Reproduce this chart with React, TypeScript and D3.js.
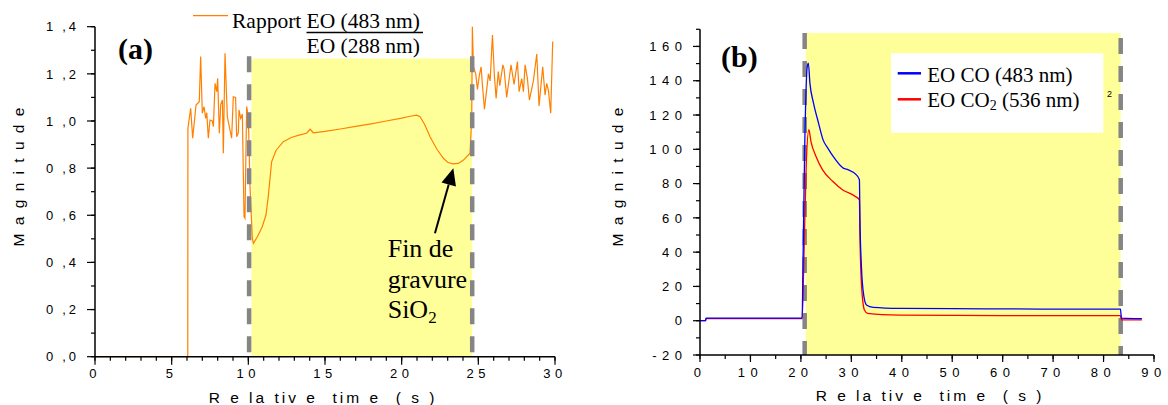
import React from "react";
import * as d3 from "d3";

// ---------- Data: panel (a) ----------
const ratioTime = [
  0, 6.05, 6.06, 6.24, 6.37, 6.59, 6.8, 6.89, 7.0, 7.11, 7.22, 7.29, 7.39, 7.5, 7.65, 7.72,
  7.83, 7.94, 8.0, 8.11, 8.2, 8.31, 8.37, 8.48, 8.63, 8.91, 9.02, 9.17, 9.24, 9.35, 9.39,
  9.5, 9.61, 9.72, 9.78, 9.89, 10.0, 10.11, 10.26, 10.33, 10.6, 10.9, 11.15, 11.3, 11.52,
  11.8, 12.28, 12.8, 13.3, 13.8, 14.03, 14.24, 15, 16, 17, 18, 19, 20, 20.55, 20.98, 21.2,
  21.5, 21.85, 22.3, 22.72, 23.0, 23.33, 23.7, 24.03, 24.46, 24.57, 24.61, 24.68, 24.83,
  24.94, 25.07, 25.18, 25.27, 25.4, 25.54, 25.66, 25.77, 25.92, 26.05, 26.16, 26.3, 26.4,
  26.6, 26.68, 26.85, 27.13, 27.33, 27.55, 27.66, 27.83, 27.94, 28.05, 28.2, 28.33, 28.59,
  28.81, 28.96, 29.2, 29.35, 29.46, 29.57, 29.72, 29.85,
];
const ratioValues = [
  0, 0, 0.969, 1.054, 0.927, 1.068, 1.082, 1.273, 1.033, 1.061, 1.011, 1.035, 0.927, 1.004,
  1.0, 0.976, 1.16, 1.124, 1.181, 0.948, 1.07, 1.089, 0.863, 1.287, 1.018, 0.927, 1.103,
  1.1, 0.933, 0.95, 1.047, 1.011, 1.03, 0.594, 0.587, 1.061, 1.02, 0.721, 0.502, 0.481,
  0.51, 0.55, 0.601, 0.68, 0.827, 0.875, 0.912, 0.93, 0.94, 0.948, 0.965, 0.95, 0.956,
  0.966, 0.977, 0.988, 1.0, 1.012, 1.02, 1.025, 1.018, 0.985, 0.933, 0.88, 0.842, 0.825,
  0.818, 0.82, 0.834, 0.863, 1.018, 1.4, 1.23, 1.2, 1.134, 1.195, 1.23, 1.15, 1.05, 1.13,
  1.2, 1.17, 1.365, 1.19, 1.096, 1.21, 1.15, 1.238, 1.22, 1.1, 1.238, 1.155, 1.252, 1.124,
  1.18, 1.124, 1.238, 1.18, 1.089, 1.17, 1.284, 1.064, 1.23, 1.11, 1.16, 1.13, 1.033, 1.337,
];
const aXTicks = [0, 5, 10, 15, 20, 25, 30];
const aYTicks = [0, 0.2, 0.4, 0.6, 0.8, 1.0, 1.2, 1.4];
const aMarkers = [10.05, 24.6];
const aWindow = [10.2, 24.6];
const aWindowTop = 1.265;
const aArrowFrom = [22.17, 0.524];
const aArrowTo = [23.37, 0.8];

// ---------- Data: panel (b) ----------
const coTime = [
  0, 1.1, 1.2, 20.25, 20.4, 20.75, 21.25, 21.48, 21.79, 22.5, 23.5, 24.4, 25.4, 26.4, 28.4,
  29.4, 31.0, 31.6, 31.7, 32.0, 32.5, 33.0, 34.35, 39.6, 50, 60, 70, 83.35, 83.55, 87.6,
];
const coValues = [
  0, 0, 1.5, 1.5, 30, 100, 148, 150.3, 138.6, 127, 115.3, 105.5, 100.4, 95.8, 89, 88, 85.1,
  82.2, 60.7, 31.5, 14, 9.2, 7.8, 7.2, 7.0, 6.9, 6.8, 6.8, 1.5, 1.2,
];
const co2Time = [
  0, 1.1, 1.2, 20.25, 20.55, 21.05, 21.58, 22.0, 23.0, 24.3, 26.35, 28.3, 30.3, 31.0, 31.6,
  31.7, 32.0, 32.6, 33.2, 39.6, 50, 60, 70, 83.35, 83.55, 87.6,
];
const co2Values = [
  0, 0, 1.2, 1.2, 30, 90, 111.4, 104.5, 95.8, 88, 81.2, 76.3, 73.4, 72.1, 70.5, 51, 21.8,
  6.2, 4.3, 3.3, 3.1, 3.0, 3.0, 3.0, 0.5, 0.5,
];
const bXTicks = [0, 10, 20, 30, 40, 50, 60, 70, 80, 90];
const bYTicks = [-20, 0, 20, 40, 60, 80, 100, 120, 140, 160];
const bMarkers = [20.75, 83.4];
const bWindow = [20.95, 83.4];
const bWindowTop = 167.8;

const SANS = "'Liberation Sans', Arial, sans-serif";
const SERIF = "'Liberation Serif', 'Times New Roman', serif";
const YELLOW = "#ffff99";
const DASH = "#858585";

function range(a: number, b: number, step: number) {
  const out: number[] = [];
  for (let v = a; v <= b + 1e-9; v += step) out.push(+v.toFixed(6));
  return out;
}

export default function App() {
  const xA = d3.scaleLinear().domain([0, 30]).range([95, 555]);
  const yA = d3.scaleLinear().domain([0, 1.4]).range([356.7, 26.7]);
  const xB = d3.scaleLinear().domain([0, 90]).range([700, 1154]);
  const yB = d3.scaleLinear().domain([-20, 170]).range([355, 29.3]);

  const lineA = d3
    .line<number>()
    .x((_, i) => xA(ratioTime[i]))
    .y((d) => yA(d));
  const lineCO = d3
    .line<number>()
    .x((_, i) => xB(coTime[i]))
    .y((d) => yB(d))
    .curve(d3.curveMonotoneX);
  const lineCO2 = d3
    .line<number>()
    .x((_, i) => xB(co2Time[i]))
    .y((d) => yB(d))
    .curve(d3.curveMonotoneX);

  const tickFS = 13;
  const aXLS = 4.5;
  const aYLS = 2.8;
  const bLS = 5.5;

  // arrow geometry
  const ax0 = xA(aArrowFrom[0]), ay0 = yA(aArrowFrom[1]);
  const ax1 = xA(aArrowTo[0]), ay1 = yA(aArrowTo[1]);
  const ang = Math.atan2(ay1 - ay0, ax1 - ax0);
  const headLen = 17, headW = 7.5;
  const bx = ax1 - headLen * Math.cos(ang), by = ay1 - headLen * Math.sin(ang);
  const px = -Math.sin(ang), py = Math.cos(ang);
  const head = `${ax1},${ay1} ${bx + headW * px},${by + headW * py} ${bx - headW * px},${by - headW * py}`;

  const aY0 = yA(0);
  const bYAxis = yB(-20);

  return (
    <svg
      width={1168}
      height={405}
      style={{ position: "absolute", left: 0, top: 0, background: "#fff" }}
    >
      {/* ================= Panel (a) ================= */}
      <rect
        x={xA(aWindow[0])}
        y={yA(aWindowTop)}
        width={xA(aWindow[1]) - xA(aWindow[0])}
        height={aY0 - yA(aWindowTop)}
        fill={YELLOW}
      />
      <path d={lineA(ratioValues) || ""} fill="none" stroke="#ff8000" strokeWidth={1.2} />
      {aMarkers.map((m, i) => (
        <line
          key={i}
          x1={xA(m)}
          x2={xA(m)}
          y1={yA(1.275)}
          y2={aY0}
          stroke={DASH}
          strokeWidth={4.5}
          strokeDasharray="16 12"
        />
      ))}
      {/* axes */}
      <line x1={xA(0)} x2={xA(0)} y1={yA(0)} y2={yA(1.4)} stroke="#000" strokeWidth={1.5} />
      <line x1={xA(0)} x2={xA(30)} y1={aY0} y2={aY0} stroke="#000" strokeWidth={1.5} />
      {range(0, 1.4, 0.1).map((v) => (
        <line key={"aym" + v} x1={xA(0) - 4} x2={xA(0)} y1={yA(v)} y2={yA(v)} stroke="#000" strokeWidth={1.2} />
      ))}
      {aYTicks.map((v) => (
        <g key={"ayt" + v}>
          <line x1={xA(0) - 8} x2={xA(0)} y1={yA(v)} y2={yA(v)} stroke="#000" strokeWidth={1.2} />
          <text
            x={76 + aYLS}
            y={yA(v)}
            dy="0.36em"
            textAnchor="end"
            fontFamily={SANS}
            fontSize={tickFS}
            letterSpacing={aYLS}
            fill="#000"
          >
            {v.toFixed(1).replace(".", " ,")}
          </text>
        </g>
      ))}
      {range(0, 30, 1).map((v) => (
        <line key={"axm" + v} x1={xA(v)} x2={xA(v)} y1={aY0} y2={aY0 + 4} stroke="#000" strokeWidth={1.2} />
      ))}
      {aXTicks.map((v) => (
        <g key={"axt" + v}>
          <line x1={xA(v)} x2={xA(v)} y1={aY0} y2={aY0 + 8} stroke="#000" strokeWidth={1.2} />
          <text
            x={xA(v)}
            y={378}
            textAnchor="middle"
            fontFamily={SANS}
            fontSize={tickFS}
            letterSpacing={aXLS}
            fill="#000"
          >
            {String(v)}
          </text>
        </g>
      ))}
      <text
        x={323}
        y={403}
        textAnchor="middle"
        fontFamily={SANS}
        fontSize={15.5}
        letterSpacing={3}
        style={{ whiteSpace: "pre" }}
        fill="#000"
      >
        {"R e la tiv e  tim e  ( s )"}
      </text>
      <text
        transform={`translate(23.5,176) rotate(-90)`}
        textAnchor="middle"
        fontFamily={SANS}
        fontSize={15.5}
        letterSpacing={2}
        fill="#000"
      >
        M a g n i t u d e
      </text>
      {/* labels */}
      <text x={118} y={59} fontFamily={SERIF} fontSize={30} fontWeight="bold" fill="#000">
        (a)
      </text>
      <line x1={193} x2={228} y1={15.7} y2={15.7} stroke="#ff8000" strokeWidth={1.2} />
      <text x={232} y={28} fontFamily={SERIF} fontSize={21.5} fill="#000">
        Rapport
      </text>
      <text x={306.5} y={28} fontFamily={SERIF} fontSize={21.5} fill="#000">
        EO (483 nm)
      </text>
      <line x1={306.5} x2={423} y1={32.5} y2={32.5} stroke="#000" strokeWidth={1.5} />
      <text x={306.5} y={53} fontFamily={SERIF} fontSize={21.5} fill="#000">
        EO (288 nm)
      </text>
      <line x1={ax0} y1={ay0} x2={bx} y2={by} stroke="#000" strokeWidth={2} />
      <polygon points={head} fill="#000" />
      <text fontFamily={SERIF} fontSize={26} fill="#000">
        <tspan x={387.7} y={257.3}>Fin de</tspan>
        <tspan x={387.7} y={287.5}>gravure</tspan>
        <tspan x={387.7} y={318.3}>SiO</tspan>
        <tspan fontSize={17} dy={5}>2</tspan>
      </text>

      {/* ================= Panel (b) ================= */}
      <rect
        x={xB(bWindow[0])}
        y={yB(bWindowTop)}
        width={xB(bWindow[1]) - xB(bWindow[0])}
        height={bYAxis - yB(bWindowTop)}
        fill={YELLOW}
      />
      {bMarkers.map((m, i) => (
        <line
          key={i}
          x1={xB(m)}
          x2={xB(m)}
          y1={i === 0 ? yB(bWindowTop) : yB(bWindowTop) + 5}
          y2={bYAxis}
          stroke={DASH}
          strokeWidth={4.5}
          strokeDasharray="16 12"
        />
      ))}
      <path d={lineCO2(co2Values) || ""} fill="none" stroke="#ff0000" strokeWidth={1.3} />
      <path d={lineCO(coValues) || ""} fill="none" stroke="#0000ff" strokeWidth={1.3} />
      {/* axes */}
      <line x1={xB(0)} x2={xB(0)} y1={yB(-20)} y2={yB(170)} stroke="#000" strokeWidth={1.5} />
      <line x1={xB(0)} x2={xB(90)} y1={bYAxis} y2={bYAxis} stroke="#000" strokeWidth={1.5} />
      {range(-20, 170, 10).map((v) => (
        <line key={"bym" + v} x1={xB(0) - 4} x2={xB(0)} y1={yB(v)} y2={yB(v)} stroke="#000" strokeWidth={1.2} />
      ))}
      {bYTicks.map((v) => (
        <g key={"byt" + v}>
          <line x1={xB(0) - 7} x2={xB(0)} y1={yB(v)} y2={yB(v)} stroke="#000" strokeWidth={1.2} />
          <text
            x={682 + bLS}
            y={yB(v)}
            dy="0.36em"
            textAnchor="end"
            fontFamily={SANS}
            fontSize={tickFS}
            letterSpacing={bLS}
            fill="#000"
          >
            {String(v)}
          </text>
        </g>
      ))}
      {range(0, 90, 5).map((v) => (
        <line key={"bxm" + v} x1={xB(v)} x2={xB(v)} y1={bYAxis} y2={bYAxis + 4} stroke="#000" strokeWidth={1.2} />
      ))}
      {bXTicks.map((v) => (
        <g key={"bxt" + v}>
          <line x1={xB(v)} x2={xB(v)} y1={bYAxis} y2={bYAxis + 7} stroke="#000" strokeWidth={1.2} />
          <text
            x={xB(v)}
            y={377}
            textAnchor="middle"
            fontFamily={SANS}
            fontSize={tickFS}
            letterSpacing={bLS}
            fill="#000"
          >
            {String(v)}
          </text>
        </g>
      ))}
      <text
        x={930}
        y={401}
        textAnchor="middle"
        fontFamily={SANS}
        fontSize={15.5}
        letterSpacing={3}
        style={{ whiteSpace: "pre" }}
        fill="#000"
      >
        {"R e la tiv e  tim e  ( s )"}
      </text>
      <text
        transform={`translate(623,176) rotate(-90)`}
        textAnchor="middle"
        fontFamily={SANS}
        fontSize={15.5}
        letterSpacing={2}
        fill="#000"
      >
        M a g n i t u d e
      </text>
      <text x={721} y={67} fontFamily={SERIF} fontSize={30} fontWeight="bold" fill="#000">
        (b)
      </text>
      {/* legend */}
      <rect x={891} y={53.3} width={212.3} height={79.4} fill="#fff" />
      <line x1={897.7} x2={921} y1={73.3} y2={73.3} stroke="#0000ff" strokeWidth={2.5} />
      <line x1={897.7} x2={921} y1={99.3} y2={99.3} stroke="#ff0000" strokeWidth={2.5} />
      <text x={927.3} y={81.7} fontFamily={SERIF} fontSize={21} fill="#000">
        EO CO (483 nm)
      </text>
      <text x={927.3} y={107.3} fontFamily={SERIF} fontSize={21} fill="#000">
        EO CO<tspan fontSize={14} dy={3}>2</tspan>
        <tspan dy={-3}> (536 nm)</tspan>
      </text>
      <text x={1107} y={97} fontFamily={SANS} fontSize={9} fill="#000">
        2
      </text>
    </svg>
  );
}
